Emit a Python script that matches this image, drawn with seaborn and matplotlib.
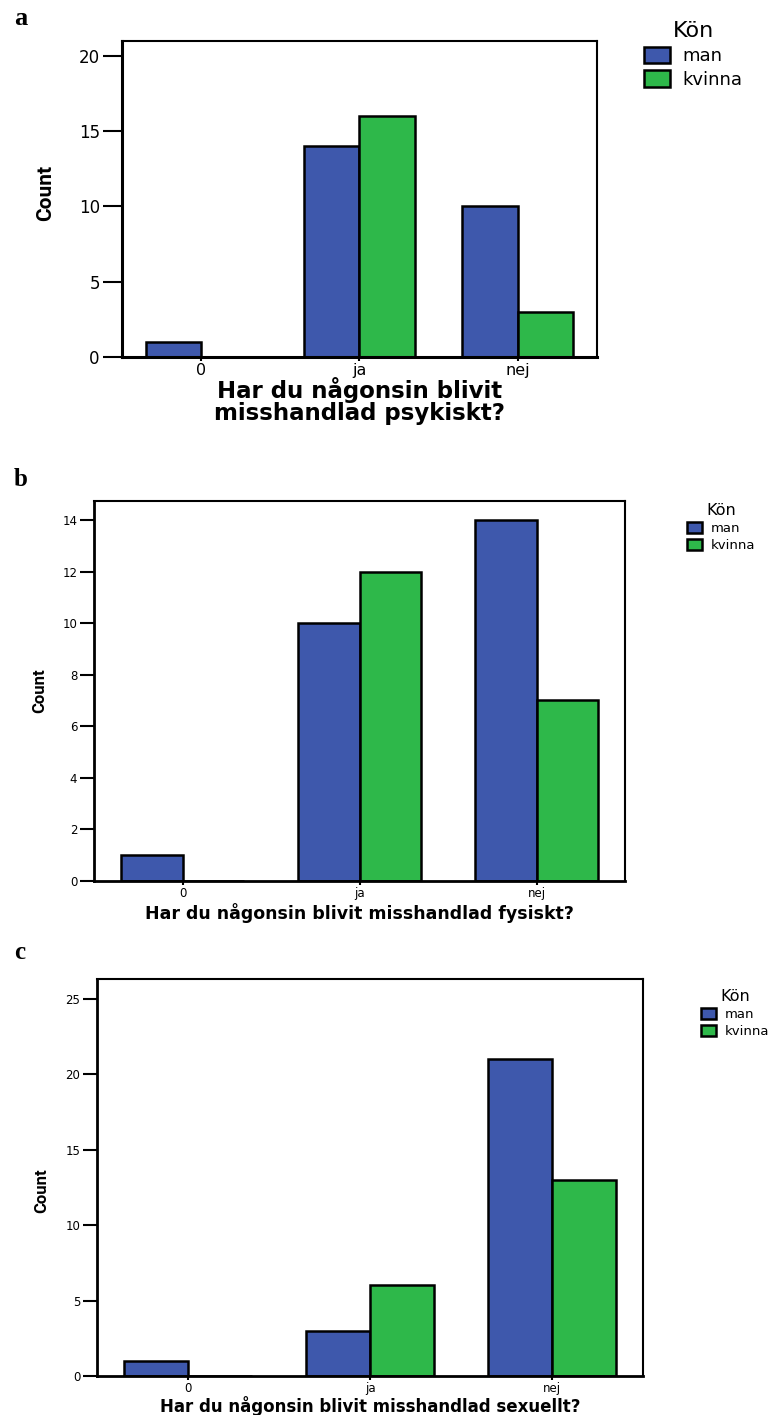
import matplotlib
matplotlib.use("Agg")
import matplotlib.pyplot as plt
import seaborn as sns
import pandas as pd

categories = ["0", "ja", "nej"]
genders = ["man", "kvinna"]

psykiskt_man = [1, 14, 10]
psykiskt_kvinna = [0, 16, 3]
fysiskt_man = [1, 10, 14]
fysiskt_kvinna = [0, 12, 7]
sexuellt_man = [1, 3, 21]
sexuellt_kvinna = [0, 6, 13]

xlabels = ["Har du någonsin blivit\nmisshandlad psykiskt?",
           "Har du någonsin blivit misshandlad fysiskt?",
           "Har du någonsin blivit misshandlad sexuellt?"]
panel_letters = ["a", "b", "c"]

sns.set_theme(style="white")
plt.rcParams['font.family'] = ['DejaVu Sans']
plt.rcParams['text.color'] = 'black'
plt.rcParams['axes.labelcolor'] = 'black'
plt.rcParams['xtick.color'] = 'black'
plt.rcParams['ytick.color'] = 'black'

palette = {"man": "#3E58AC", "kvinna": "#2EB84A"}

def long_df(man, kvinna):
    rows = []
    for c, m, k in zip(categories, man, kvinna):
        rows.append({"cat": c, "Kön": "man", "Count": m})
        rows.append({"cat": c, "Kön": "kvinna", "Count": k})
    return pd.DataFrame(rows)

fig = plt.figure(figsize=(7.75, 14.15), dpi=100)

specs = [
    dict(man=psykiskt_man, kvinna=psykiskt_kvinna,
         rect=[0.1574, 0.7477, 0.6129, 0.2235], ylim=21.0, yticks=[0, 5, 10, 15, 20],
         tick_fs=12, xtick_fs=11.5, xlab_fs=16.5, ylab_fs=15, ticklen=14, xticklen=3,
         leg_fs=13, leg_title_fs=16, handlelength=1.4, handleheight=1.0,
         ylab_x=-0.141, ylab_y=0.52, xlab_y=-0.064, leg_xy=(0.822, 0.990),
         letter_y=0.995, letter_fs=19, spine_lw=2.2),
    dict(man=fysiskt_man, kvinna=fysiskt_kvinna,
         rect=[0.1213, 0.3774, 0.6852, 0.2686], ylim=14.74, yticks=[0, 2, 4, 6, 8, 10, 12, 14],
         tick_fs=8.5, xtick_fs=8.5, xlab_fs=12.5, ylab_fs=12, ticklen=10, xticklen=3,
         leg_fs=9.5, leg_title_fs=11.5, handlelength=1.1, handleheight=0.9,
         ylab_x=-0.088, ylab_y=0.50, xlab_y=-0.058, leg_xy=(0.880, 0.648),
         letter_y=0.669, letter_fs=18, spine_lw=2.0),
    dict(man=sexuellt_man, kvinna=sexuellt_kvinna,
         rect=[0.1252, 0.02756, 0.7045, 0.2806], ylim=26.3, yticks=[0, 5, 10, 15, 20, 25],
         tick_fs=8.5, xtick_fs=8.5, xlab_fs=12, ylab_fs=12, ticklen=10, xticklen=3,
         leg_fs=9.5, leg_title_fs=11.5, handlelength=1.1, handleheight=0.9,
         ylab_x=-0.088, ylab_y=0.468, xlab_y=-0.050, leg_xy=(0.898, 0.305),
         letter_y=0.335, letter_fs=18, spine_lw=2.0),
]

for i, s in enumerate(specs):
    ax = fig.add_axes(s["rect"])
    df = long_df(s["man"], s["kvinna"])
    sns.barplot(data=df, x="cat", y="Count", hue="Kön", hue_order=genders,
                order=categories, palette=palette, width=0.7,
                edgecolor="black", linewidth=1.8, ax=ax, errorbar=None,
                saturation=1)
    ax.set_xlim(-0.5, 2.5)
    ax.set_ylim(0, s["ylim"])
    ax.set_yticks(s["yticks"])
    ax.tick_params(axis="y", direction="out", length=s["ticklen"], width=1.5,
                   labelsize=s["tick_fs"], color="black", left=True, pad=2)
    ax.tick_params(axis="x", direction="out", length=s["xticklen"], width=1.5,
                   labelsize=s["xtick_fs"], color="black", bottom=True, pad=1)
    for side in ["left", "bottom"]:
        ax.spines[side].set_linewidth(s["spine_lw"])
        ax.spines[side].set_color("black")
    for side in ["top", "right"]:
        ax.spines[side].set_linewidth(1.5)
        ax.spines[side].set_color("black")
        ax.spines[side].set_visible(True)
    ax.set_xlabel(xlabels[i], fontsize=s["xlab_fs"], fontweight="bold",
                  linespacing=0.95)
    ax.xaxis.set_label_coords(0.5, s["xlab_y"])
    ax.set_ylabel("Count", fontsize=s["ylab_fs"], fontweight="bold",
                  family=['Roboto', 'DejaVu Sans'])
    ax.yaxis.set_label_coords(s["ylab_x"], s["ylab_y"])

    handles, labels = ax.get_legend_handles_labels()
    ax.get_legend().remove()
    fig.legend(handles, labels, title="Kön", loc="upper left",
               bbox_to_anchor=s["leg_xy"], frameon=False,
               fontsize=s["leg_fs"], title_fontsize=s["leg_title_fs"],
               handlelength=s["handlelength"], handleheight=s["handleheight"],
               handletextpad=0.7, labelspacing=0.3, borderaxespad=0)
    fig.text(0.018, s["letter_y"], panel_letters[i], fontsize=s["letter_fs"],
             fontweight="bold", family=["Liberation Serif"], va="top", ha="left")

fig.savefig("out.png", dpi=100)
